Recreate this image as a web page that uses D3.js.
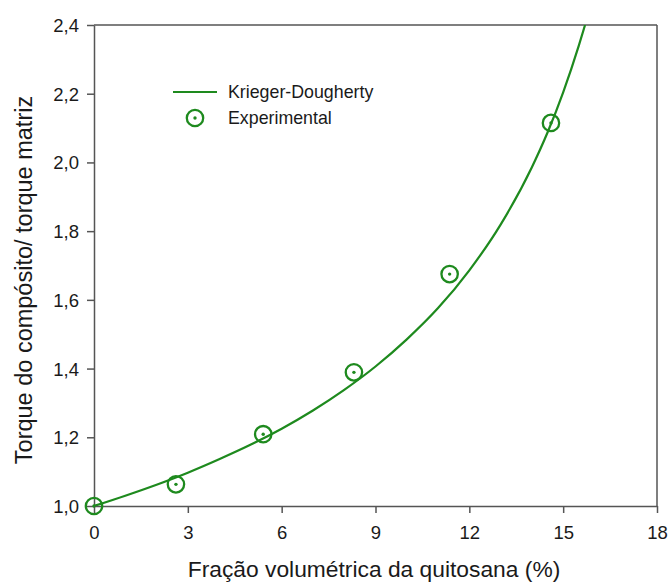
<!DOCTYPE html>
<html>
<head>
<meta charset="utf-8">
<script src="https://cdn.jsdelivr.net/npm/d3@7"></script>
<style>
  html, body { margin: 0; padding: 0; background: #fff; }
  svg { display: block; font-family: "Liberation Sans", Arial, sans-serif; }
</style>
</head>
<body>
<svg id="chart" width="669" height="583"></svg>
<script>
// Experimental torque ratio vs. chitosan volume fraction
const expFraction = [0, 2.62, 5.41, 8.31, 11.37, 14.61];
const expTorque   = [1.000, 1.063, 1.209, 1.389, 1.675, 2.115];

// Krieger-Dougherty model curve, sampled points
const kdFraction = [0, 1, 2, 3, 4, 5, 6, 7, 8, 9, 10, 11, 12, 13, 14, 14.5, 15, 15.5, 15.7];
const kdTorque   = [1.000, 1.030, 1.062, 1.097, 1.136, 1.178, 1.225, 1.278, 1.338, 1.406,
                    1.485, 1.576, 1.686, 1.819, 1.986, 2.087, 2.204, 2.340, 2.400];

const xTicks = [0, 3, 6, 9, 12, 15, 18];
const yTicks = [1.0, 1.2, 1.4, 1.6, 1.8, 2.0, 2.2, 2.4];

const seriesNames = ["Krieger-Dougherty", "Experimental"];
const xTitle = "Fração volumétrica da quitosana (%)";
const yTitle = "Torque do compósito/ torque matriz";

const green = "#1e8a1e";
const axisColor = "#555";
const textColor = "#1a1a1a";

const svg = d3.select("#chart");
const plotLeft = 94, plotRight = 657, plotTop = 25, plotBottom = 506;

const x = d3.scaleLinear().domain([0, 18]).range([plotLeft, plotRight]);
const y = d3.scaleLinear().domain([1.0, 2.4]).range([plotBottom, plotTop]);

const fmt = d => d3.format(".1f")(d).replace(".", ",");

// clip region for the model curve
svg.append("defs").append("clipPath").attr("id", "plotClip")
  .append("rect").attr("x", plotLeft).attr("y", plotTop)
  .attr("width", plotRight - plotLeft).attr("height", plotBottom - plotTop);

// frame (top and right)
svg.append("line").attr("x1", plotLeft).attr("x2", plotRight).attr("y1", plotTop).attr("y2", plotTop)
  .attr("stroke", axisColor).attr("stroke-width", 1.5);
svg.append("line").attr("x1", plotRight).attr("x2", plotRight).attr("y1", plotTop).attr("y2", plotBottom)
  .attr("stroke", axisColor).attr("stroke-width", 1.5);

// bottom axis
const xAxis = svg.append("g").attr("transform", `translate(0,${plotBottom})`)
  .call(d3.axisBottom(x).tickValues(xTicks).tickFormat(d3.format("d")).tickSize(7).tickSizeOuter(0));
// left axis
const yAxis = svg.append("g").attr("transform", `translate(${plotLeft},0)`)
  .call(d3.axisLeft(y).tickValues(yTicks).tickFormat(fmt).tickSize(7).tickSizeOuter(0));

[xAxis, yAxis].forEach(g => {
  g.select(".domain").attr("stroke", axisColor).attr("stroke-width", 1.5);
  g.selectAll(".tick line").attr("stroke", axisColor).attr("stroke-width", 1.5);
  g.selectAll(".tick text").attr("fill", textColor).attr("font-size", 18.5)
    .attr("font-family", "Liberation Sans, Arial, sans-serif");
});
xAxis.selectAll(".tick text").attr("dy", null).attr("y", 33);
yAxis.selectAll(".tick text").attr("x", -15).attr("dy", "0.35em");

// model curve
const kdData = kdFraction.map((f, i) => [f, kdTorque[i]]);
svg.append("path").datum(kdData)
  .attr("clip-path", "url(#plotClip)")
  .attr("fill", "none").attr("stroke", green).attr("stroke-width", 2.2)
  .attr("d", d3.line().x(d => x(d[0])).y(d => y(d[1])).curve(d3.curveMonotoneX));

// experimental markers: ring with center dot
function marker(g, cx, cy) {
  g.append("circle").attr("cx", cx).attr("cy", cy).attr("r", 8.2)
    .attr("fill", "none").attr("stroke", green).attr("stroke-width", 2.3);
  g.append("circle").attr("cx", cx).attr("cy", cy).attr("r", 1.7).attr("fill", green);
}
const pts = svg.append("g");
expFraction.forEach((f, i) => marker(pts, x(f), y(expTorque[i])));

// legend
const lg = svg.append("g");
lg.append("line").attr("x1", 173).attr("x2", 217).attr("y1", 92).attr("y2", 92)
  .attr("stroke", green).attr("stroke-width", 2.2);
marker(lg, 195, 118);
lg.append("text").attr("x", 228).attr("y", 98).attr("font-size", 17.8).attr("fill", textColor)
  .text(seriesNames[0]);
lg.append("text").attr("x", 228).attr("y", 124).attr("font-size", 17.8).attr("fill", textColor)
  .text(seriesNames[1]);

// axis titles
svg.append("text").attr("x", 374).attr("y", 577)
  .attr("text-anchor", "middle").attr("font-size", 22.8).attr("fill", textColor).text(xTitle);
svg.append("text").attr("transform", "translate(32,280) rotate(-90)")
  .attr("text-anchor", "middle").attr("font-size", 23.5).attr("fill", textColor).text(yTitle);
</script>
</body>
</html>
